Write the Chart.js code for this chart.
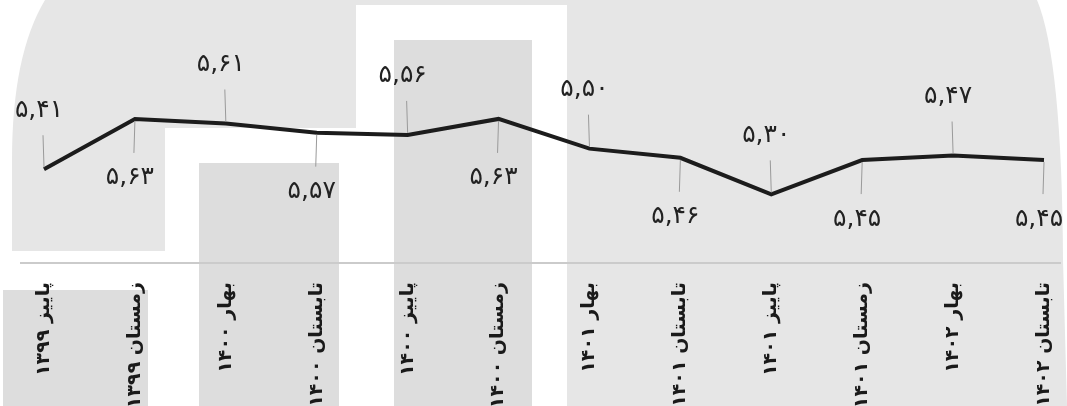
<!DOCTYPE html>
<html>
<head>
<meta charset="utf-8">
<script src="https://cdn.jsdelivr.net/npm/chart.js@4"></script>
<style>
  html, body { margin: 0; padding: 0; background: #fff; }
  #wrap { width: 1067px; height: 406px; }
</style>
</head>
<body>
<div id="wrap"><canvas id="myChart"></canvas></div>
<script>
// seasons (Persian calendar)
const labels = [
  'پاییز ۱۳۹۹', 'زمستان ۱۳۹۹', 'بهار ۱۴۰۰', 'تابستان ۱۴۰۰',
  'پاییز ۱۴۰۰', 'زمستان ۱۴۰۰', 'بهار ۱۴۰۱', 'تابستان ۱۴۰۱',
  'پاییز ۱۴۰۱', 'زمستان ۱۴۰۱', 'بهار ۱۴۰۲', 'تابستان ۱۴۰۲'
];
const values = [5.41, 5.63, 5.61, 5.57, 5.56, 5.63, 5.50, 5.46, 5.30, 5.45, 5.47, 5.45];

const yMin = 5.0;
const yMax = 6.15;

function toPersian(v) {
  const d = '۰۱۲۳۴۵۶۷۸۹';
  return v.toFixed(2).replace('.', ',').replace(/[0-9]/g, c => d[c]);
}

// background decoration (grey blocks behind the chart)
const backdrop = {
  id: 'backdrop',
  beforeDraw(chart) {
    const c = chart.ctx;
    const {width, height} = chart;
    c.save();
    c.fillStyle = '#ffffff';
    c.fillRect(0, 0, width, height);

    c.fillStyle = '#e6e6e6';
    // top left block
    c.beginPath();
    c.moveTo(45, 0);
    c.lineTo(356, 0);
    c.lineTo(356, 128);
    c.lineTo(165, 128);
    c.lineTo(165, 251);
    c.lineTo(12, 251);
    c.lineTo(12, 160);
    c.quadraticCurveTo(12, 55, 45, 0);
    c.fill();
    // thin strip on top of white box
    c.fillRect(356, 0, 211, 5);
    // right block
    c.beginPath();
    c.moveTo(567, 0);
    c.lineTo(1037, 0);
    c.quadraticCurveTo(1062, 60, 1063, 260);
    c.lineTo(1067, height);
    c.lineTo(567, height);
    c.fill();

    c.fillStyle = '#dddddd';
    c.fillRect(199, 163, 140, height - 163);
    c.fillRect(394, 40, 138, height - 40);
    c.fillRect(3, 290, 145, height - 290);

    // axis line
    const yb = chart.scales.y.getPixelForValue(yMin);
    c.strokeStyle = '#cbcbcb';
    c.lineWidth = 2;
    c.beginPath();
    c.moveTo(20, yb);
    c.lineTo(width - 6, yb);
    c.stroke();
    c.restore();
  }
};

// value labels with leader lines, alternating above / below
const valueLabels = {
  id: 'valueLabels',
  afterDatasetsDraw(chart) {
    const c = chart.ctx;
    const meta = chart.getDatasetMeta(0);
    c.save();
    c.font = '25px "DejaVu Sans"';
    c.fillStyle = '#222';
    c.textAlign = 'center';
    c.textBaseline = 'middle';
    meta.data.forEach((pt, i) => {
      const dir = i % 2 === 0 ? -1 : 1;
      c.strokeStyle = '#9a9a9a';
      c.lineWidth = 1;
      c.beginPath();
      c.moveTo(pt.x, pt.y + dir * 2);
      c.lineTo(pt.x - 1, pt.y + dir * 34);
      c.stroke();
      c.fillText(toPersian(values[i]), pt.x - 5, pt.y + dir * 59);
    });
    c.restore();
  }
};

const ctx = document.getElementById('myChart');

new Chart(ctx, {
  type: 'line',
  data: {
    labels: labels,
    datasets: [{
      data: values,
      borderColor: '#1c1c1c',
      borderWidth: 4,
      pointRadius: 0,
      tension: 0,
      fill: false
    }]
  },
  options: {
    responsive: true,
    maintainAspectRatio: false,
    animation: false,
    layout: { padding: { left: 44, right: 23, top: 0, bottom: 0 } },
    plugins: {
      legend: { display: false },
      tooltip: { enabled: false }
    },
    scales: {
      x: {
        offset: false,
        grid: { display: false, drawTicks: false },
        border: { display: false },
        afterFit(scale) {
          scale.height = 143;
          scale.paddingLeft = 0;
          scale.paddingRight = 0;
        },
        ticks: {
          autoSkip: false,
          maxRotation: 90,
          minRotation: 90,
          padding: 19,
          color: '#1a1a1a',
          font: { family: 'DejaVu Sans', size: 19, weight: 'bold' }
        }
      },
      y: {
        display: false,
        min: yMin,
        max: yMax
      }
    }
  },
  plugins: [backdrop, valueLabels]
});
</script>
</body>
</html>
